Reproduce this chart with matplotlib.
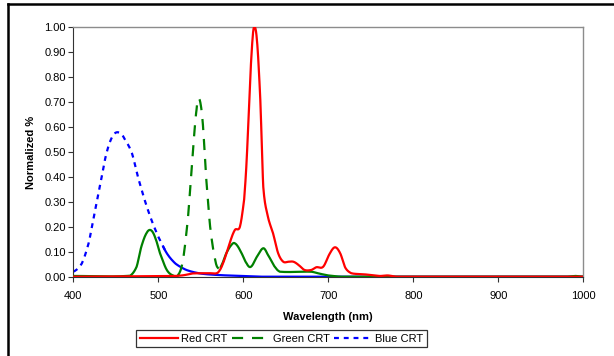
import numpy as np
import matplotlib
matplotlib.use("Agg")
import matplotlib.pyplot as plt
from matplotlib.lines import Line2D

plt.rcParams["font.family"] = ["Liberation Sans", "DejaVu Sans"]

# ---- data ----
red_wl = [400, 450, 500, 520, 530, 540, 560, 570, 576, 584, 590, 596, 601, 604, 607,
          610, 612.5, 616, 620, 623.5, 629, 635, 641, 647, 653, 659, 665, 672, 680,
          686, 694, 702, 708, 714, 720, 727, 741, 760, 770, 780, 1000]
red_val = [0.0, 0.001, 0.002, 0.003, 0.006, 0.013, 0.014, 0.016, 0.053, 0.134, 0.187,
           0.2, 0.31, 0.47, 0.71, 0.91, 1.0, 0.95, 0.71, 0.36, 0.24, 0.174, 0.094,
           0.06, 0.06, 0.06, 0.047, 0.027, 0.027, 0.038, 0.04, 0.094, 0.118, 0.094,
           0.036, 0.014, 0.01, 0.003, 0.005, 0.0, 0.0]

green_wl = [400, 467, 474.5, 480, 486, 491, 496, 502, 510, 518, 523.5, 529, 535, 540,
            545, 548, 552, 556, 561, 567, 571, 574.5, 580, 586, 590, 596, 604, 609,
            616, 623.5, 629, 637, 643, 680, 690, 700, 715, 980, 990, 1000]
green_val = [0.003, 0.004, 0.04, 0.12, 0.174, 0.187, 0.16, 0.094, 0.027, 0.004, 0.007,
             0.067, 0.24, 0.47, 0.67, 0.714, 0.63, 0.41, 0.20, 0.067, 0.033, 0.047,
             0.094, 0.127, 0.134, 0.107, 0.053, 0.04, 0.08, 0.114, 0.087, 0.04, 0.02,
             0.02, 0.012, 0.005, 0.0, 0.0, 0.003, 0.0]

blue_wl = [400, 410, 418, 425, 431, 439, 447, 455, 461, 469, 476, 484, 492, 500, 510,
           520, 533, 549, 569, 588, 620, 1000]
blue_val = [0.02, 0.053, 0.134, 0.254, 0.36, 0.495, 0.568, 0.577, 0.548, 0.495, 0.40,
            0.307, 0.227, 0.16, 0.094, 0.053, 0.027, 0.013, 0.007, 0.004, 0.0, 0.0]

x_ticks = [400, 500, 600, 700, 800, 900, 1000]
y_ticks = [0.0, 0.1, 0.2, 0.3, 0.4, 0.5, 0.6, 0.7, 0.8, 0.9, 1.0]

RED, GREEN, BLUE = "#ff0000", "#008000", "#0000ff"
FS = 8
G_DASH = (5, 4)
B_DASH = (2.2, 2.2)


def smooth(wl, val, step=0.5):
    # Catmull-Rom curve through the read points (Excel "smoothed line" look)
    wl = np.asarray(wl, float)
    val = np.asarray(val, float)
    xs, ys = [], []
    for i in range(len(wl) - 1):
        p0 = val[max(i - 1, 0)]
        p1, p2 = val[i], val[i + 1]
        p3 = val[min(i + 2, len(wl) - 1)]
        n = max(int((wl[i + 1] - wl[i]) / step), 2)
        t = np.linspace(0, 1, n, endpoint=False)
        y = 0.5 * ((2 * p1) + (-p0 + p2) * t + (2 * p0 - 5 * p1 + 4 * p2 - p3) * t ** 2
                   + (-p0 + 3 * p1 - 3 * p2 + p3) * t ** 3)
        xs.append(wl[i] + t * (wl[i + 1] - wl[i]))
        ys.append(np.clip(y, 0, None))
    xs.append([wl[-1]])
    ys.append([val[-1]])
    return np.concatenate(xs), np.concatenate(ys)


fig = plt.figure(figsize=(6.14, 3.56), dpi=100, facecolor="white")
ax = fig.add_axes([73.3 / 614, 1 - 276.7 / 356, (583.3 - 73.3) / 614, (276.7 - 27.3) / 356])

rx, ry = smooth(red_wl, red_val)
gx, gy = smooth(green_wl, green_val)
bx, by = smooth(blue_wl, blue_val)

# Excel's dash pattern only shows on the steep parts; elsewhere the line reads solid
g_dash = (gx >= 524) & (gx <= 573)
g_dash_ext = g_dash | np.roll(g_dash, 1) | np.roll(g_dash, -1)
ax.plot(gx, np.where(g_dash, np.nan, gy), color=GREEN, lw=1.6, zorder=3)
ax.plot(gx, np.where(g_dash_ext, gy, np.nan), color=GREEN, lw=1.6, dashes=G_DASH, zorder=3)
ax.plot(bx, np.where(bx <= 508, by, np.nan), color=BLUE, lw=1.6, dashes=B_DASH, zorder=2)
ax.plot(bx, np.where(bx >= 506, by, np.nan), color=BLUE, lw=1.6, zorder=2)
ax.plot(rx, ry, color=RED, lw=1.6, zorder=4)

ax.set_xlim(400, 1000)
ax.set_ylim(0, 1.0)
ax.set_xticks(x_ticks)
ax.set_yticks(y_ticks)
ax.set_yticklabels([f"{v:.2f}" for v in y_ticks])
ax.tick_params(axis="both", labelsize=FS, length=3.5, width=0.8, colors="#333333",
               labelcolor="black", direction="out", pad=2)
ax.tick_params(axis="x", pad=7)
for side in ("top", "right"):
    ax.spines[side].set_color("#8c8c8c")
    ax.spines[side].set_linewidth(1.0)
for side in ("left", "bottom"):
    ax.spines[side].set_color("#333333")
    ax.spines[side].set_linewidth(0.8)

ax.set_xlabel("Wavelength (nm)", fontsize=FS, fontweight="bold", labelpad=8)
ax.set_ylabel("Normalized %", fontsize=FS, fontweight="bold", labelpad=6)

handles = [Line2D([], [], color=RED, lw=1.6),
           Line2D([], [], color=GREEN, lw=1.6, dashes=G_DASH),
           Line2D([], [], color=BLUE, lw=1.6, dashes=B_DASH)]
leg = fig.legend(handles, ["Red CRT", "Green CRT", "Blue CRT"], loc="center",
                 bbox_to_anchor=(281.5 / 614, 1 - 338.5 / 356), ncol=3, fontsize=FS,
                 frameon=True, fancybox=False, handlelength=3.4, handletextpad=0.3,
                 columnspacing=0.4, borderpad=0.35, borderaxespad=0)
leg.get_frame().set_edgecolor("black")
leg.get_frame().set_linewidth(0.9)

# outer chart-area border (only left and top edges fall inside the crop)
fig.add_artist(Line2D([7.5 / 614, 7.5 / 614], [0, 1 - 4 / 356], color="black", lw=1.8,
                      transform=fig.transFigure))
fig.add_artist(Line2D([7.5 / 614, 1], [1 - 4 / 356, 1 - 4 / 356], color="black", lw=1.8,
                      transform=fig.transFigure))

fig.savefig("out.png", dpi=100, facecolor="white")
